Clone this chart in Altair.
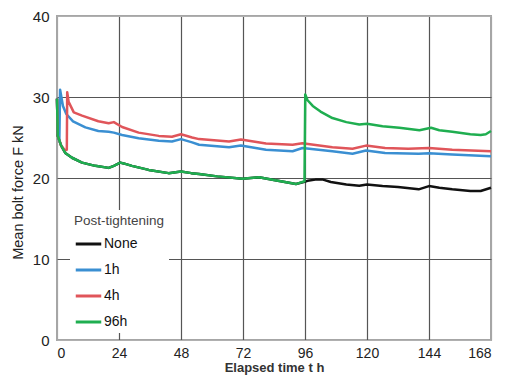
import altair as alt
import pandas as pd

# --- data ---
none_t = [0, 0.3, 1.6, 3.2, 5.8, 9.7, 14.8, 20, 22, 24.5, 25.8, 29, 35.5, 43.2, 48, 52, 55, 62, 71.8, 78.2, 85, 92.5, 95.5,
          97, 100, 103, 106, 112, 117, 120, 126, 132, 140, 144, 148, 153, 160, 164, 168]
none_v = [29.8, 25.2, 24.0, 23.1, 22.5, 21.9, 21.5, 21.25, 21.5, 21.9, 21.8, 21.5, 21.0, 20.6, 20.8, 20.6, 20.5, 20.2, 19.9, 20.1, 19.7, 19.25, 19.5,
          19.65, 19.8, 19.8, 19.5, 19.2, 19.05, 19.2, 19.0, 18.9, 18.6, 19.0, 18.8, 18.6, 18.4, 18.4, 18.8]

h1_t = [0, 0.3, 0.9, 1.2, 2.3, 3.6, 6.2, 11, 16, 20, 22, 25.2, 31.6, 39.4, 44.5, 48, 52.3, 55, 66.6, 71.2, 80.9, 91.2, 95,
        106.6, 114.4, 119.6, 127, 140, 144, 153, 168]
h1_v = [29.8, 25.5, 24.5, 30.9, 28.9, 27.9, 27.0, 26.25, 25.8, 25.7, 25.6, 25.3, 24.9, 24.6, 24.5, 24.8, 24.4, 24.1, 23.8, 24.0, 23.5, 23.3, 23.7,
        23.3, 23.0, 23.4, 23.1, 23.0, 23.05, 22.9, 22.7]

h4_t = [0, 0.3, 1.6, 3.2, 3.8, 3.95, 4.5, 6.5, 9.7, 16, 20, 22, 25.2, 31.6, 39.4, 44.5, 48, 52.3, 55, 66.6, 71.2, 80.9, 91.2, 95,
        106.6, 114.4, 119.6, 127, 136, 144, 153, 168]
h4_v = [29.8, 25.2, 24.0, 23.4, 23.5, 30.6, 29.4, 28.1, 27.7, 27.0, 26.75, 26.9, 26.3, 25.6, 25.2, 25.1, 25.4, 25.0, 24.8, 24.5, 24.75, 24.25, 24.1, 24.3,
        23.8, 23.6, 24.0, 23.7, 23.6, 23.7, 23.5, 23.3]

h96_t = [0, 0.3, 1.6, 3.2, 5.8, 9.7, 14.8, 20, 22, 24.5, 25.8, 29, 35.5, 43.2, 48, 52, 55, 62, 71.8, 78.2, 85, 92.5, 95.8,
         96.1, 97, 99, 102, 106.6, 112, 117, 120, 126, 132.5, 140.3, 144.8, 148, 153, 160, 164, 166, 168]
h96_v = [29.8, 25.2, 24.0, 23.1, 22.5, 21.9, 21.5, 21.25, 21.5, 21.9, 21.8, 21.5, 21.0, 20.6, 20.8, 20.6, 20.5, 20.2, 19.9, 20.1, 19.7, 19.25, 19.6,
         30.3, 29.6, 28.9, 28.2, 27.4, 26.9, 26.6, 26.7, 26.4, 26.2, 25.9, 26.2, 25.9, 25.7, 25.4, 25.3, 25.4, 25.8]

series_names = ["None", "1h", "4h", "96h"]
series_colors = ["#111111", "#3a8fd2", "#e0555a", "#1fae50"]
x_ticks = [0, 24, 48, 72, 96, 120, 144, 168]
y_ticks = [0, 10, 20, 30, 40]

rows = []
for name, ts, vs in zip(series_names, [none_t, h1_t, h4_t, h96_t], [none_v, h1_v, h4_v, h96_v]):
    for i, (t, v) in enumerate(zip(ts, vs)):
        rows.append({"series": name, "t": t, "F": v, "i": i})
df = pd.DataFrame(rows)

FONT = "Liberation Sans"

chart = alt.Chart(df).mark_line(strokeWidth=2.5, strokeJoin="round").encode(
    x=alt.X("t:Q", scale=alt.Scale(domain=[0, 168], nice=False),
            axis=alt.Axis(values=x_ticks, title="Elapsed time t  h", format="d",
                          gridColor=alt.condition("datum.value == 0 || datum.value == 168", alt.value("#a6a6a6"), alt.value("#555555")),
                          labelPadding=6, titlePadding=1, titleFontSize=13, titleFontWeight="bold",
                          titleColor="#333", labelFontSize=14)),
    y=alt.Y("F:Q", scale=alt.Scale(domain=[0, 40], nice=False),
            axis=alt.Axis(values=y_ticks, title="Mean bolt force F  kN",
                          gridColor=alt.condition("datum.value == 0 || datum.value == 40", alt.value("#b0b0b0"), alt.value("#555555")),
                          labelPadding=8, titlePadding=7, titleFontSize=14.5, titleY=176)),
    color=alt.Color("series:N", scale=alt.Scale(domain=series_names, range=series_colors),
                    legend=alt.Legend(title="Post-tightening", orient="none", legendX=13, legendY=194,
                                      symbolType="stroke", symbolStrokeWidth=3, symbolSize=650,
                                      labelFontSize=14, labelColor="#111", labelOffset=1,
                                      titleFontSize=13.5, titleFontWeight="normal", titleColor="#444",
                                      titlePadding=2, rowPadding=4, fillColor="white", padding=4)),
    order="i:Q",
    detail="series:N",
).properties(
    width=434, height=324,
    autosize=alt.AutoSizeParams(type="none"),
    padding={"left": 49, "top": 8, "right": 8, "bottom": 40},
).configure_view(
    stroke="#a6a6a6", strokeWidth=2
).configure_axis(
    domain=False, ticks=False, gridWidth=1.2,
    labelFont=FONT, labelFontSize=15, labelColor="#222",
    titleFont=FONT, titleFontSize=13, titleFontWeight="normal", titleColor="#222",
).configure_legend(
    labelFont=FONT, titleFont=FONT
)

chart.save("out.html", embed_options={"renderer": "svg", "actions": False})
